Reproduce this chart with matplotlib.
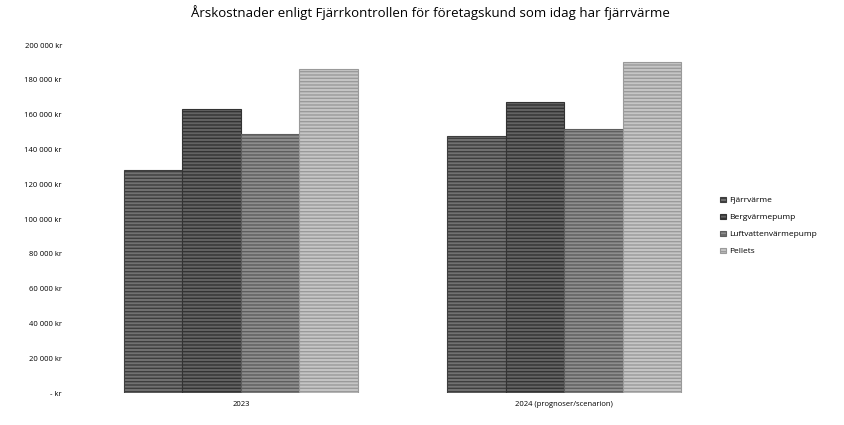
import matplotlib.pyplot as plt
import numpy as np

plt.rcParams['font.family'] = ['Open Sans', 'DejaVu Sans']

# data
categories = ['2023', '2024 (prognoser/scenarion)']
series = ['Fjärrvärme', 'Bergvärmepump', 'Luftvattenvärmepump', 'Pellets']
fjarrvarme = [128000, 147500]
bergvarme = [163000, 167000]
luftvatten = [149000, 152000]
pellets = [186500, 190500]
values = [fjarrvarme, bergvarme, luftvatten, pellets]

colors = ['#727272', '#636363', '#8e8e8e', '#c6c6c6']
hatchcols = ['#3e3e3e', '#333333', '#5e5e5e', '#9a9a9a']
yticks = np.arange(0, 200001, 20000)

fig = plt.figure(figsize=(8.44, 4.25), dpi=100)
ax = fig.add_axes([0.094, 0.075, 0.766, 0.819])

x = np.arange(len(categories))
w = 0.181
for i, (name, vals) in enumerate(zip(series, values)):
    offs = (i - 1.5) * w
    ax.bar(x + offs, vals, width=w, color=colors[i], edgecolor=hatchcols[i],
           hatch='-----', linewidth=0.8, label=name)

ax.set_xlim(-0.5, 1.5)
ax.set_ylim(0, 200000)
ax.set_xticks(x)
ax.set_xticklabels(categories, fontsize=5.5)
ax.set_yticks(yticks)
ax.set_yticklabels(['- kr' if v == 0 else f'{v:,} kr'.replace(',', ' ') for v in yticks],
                   fontsize=5.5)
ax.tick_params(axis='both', length=0)
ax.tick_params(axis='y', pad=12.5)
ax.tick_params(axis='x', pad=6)
for s in ax.spines.values():
    s.set_visible(False)

fig.text(0.51, 0.97, 'Årskostnader enligt Fjärrkontrollen för företagskund som idag har fjärrvärme',
         ha='center', va='center', fontsize=9.5)

ax.legend(loc='center left', bbox_to_anchor=(0.98, 0.48), frameon=False, fontsize=6,
          handlelength=0.7, handleheight=0.7, labelspacing=1.1, handletextpad=0.4)

plt.savefig('out.png', dpi=100)
